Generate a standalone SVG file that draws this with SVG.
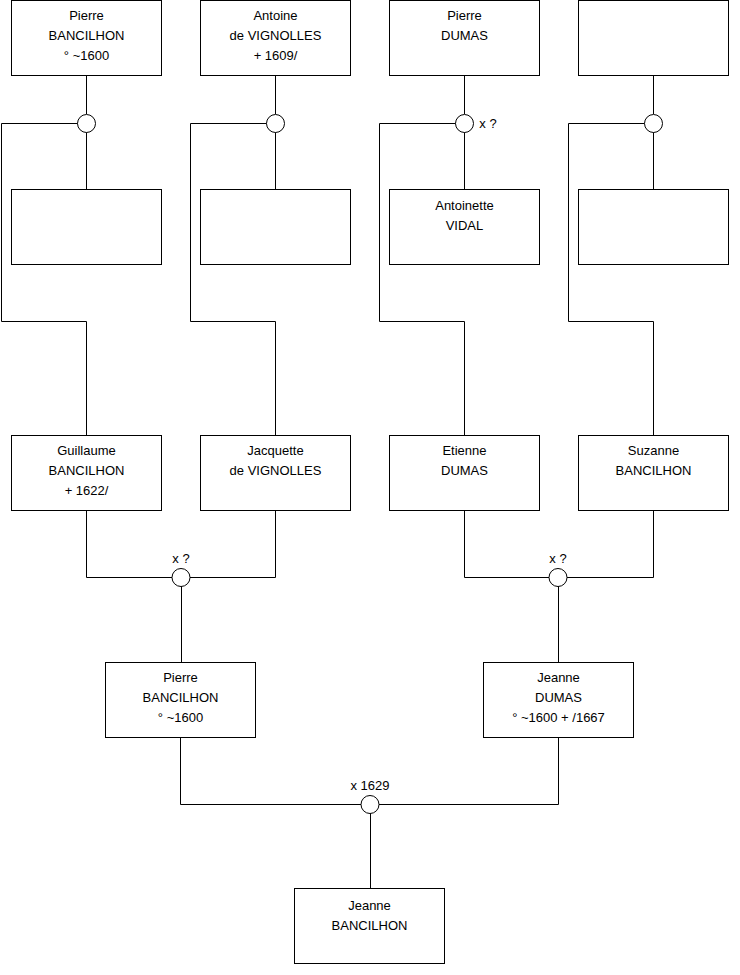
<svg xmlns="http://www.w3.org/2000/svg" width="740" height="975" viewBox="0 0 740 975">
<style>
.b{fill:#fff;stroke:#000;stroke-width:1}
.c{fill:#fff;stroke:#000;stroke-width:1}
.l{fill:none;stroke:#000;stroke-width:1}
text{font-family:"Liberation Sans",Arial,sans-serif;font-size:13px;fill:#000;text-anchor:middle}
</style>
<rect width="740" height="975" fill="#fff"/>
<g id="connectors">
<path class="l" d="M86.5 75.5V114M78 123.5H1.5V321.5H86.5V435M86.5 132V189"/>
<path class="l" d="M275.5 75.5V114M267 123.5H190.5V321.5H275.5V435M275.5 132V189"/>
<path class="l" d="M464.5 75.5V114M456 123.5H379.5V321.5H464.5V435M464.5 132V189"/>
<path class="l" d="M653.5 75.5V114M645 123.5H568.5V321.5H653.5V435M653.5 132V189"/>
<path class="l" d="M86.5 510.5V577.5H172M190 577.5H275.5V510.5M181.5 586V662"/>
<path class="l" d="M464.5 510.5V577.5H549M567 577.5H653.5V510.5M558.5 586V662"/>
<path class="l" d="M180.5 737.5V804.5H361M379 804.5H558.5V737.5M370.5 813V888"/>
</g>
<g id="u1"><circle class="c" cx="86.5" cy="123.5" r="9"/></g>
<g id="u2"><circle class="c" cx="275.5" cy="123.5" r="9"/></g>
<g id="u3"><circle class="c" cx="464.5" cy="123.5" r="9"/><text x="488" y="128">x ?</text></g>
<g id="u4"><circle class="c" cx="653.5" cy="123.5" r="9"/></g>
<g id="u5"><circle class="c" cx="181" cy="577.5" r="9"/><text x="181" y="562.5">x ?</text></g>
<g id="u6"><circle class="c" cx="558" cy="577.5" r="9"/><text x="558" y="562.5">x ?</text></g>
<g id="u7"><circle class="c" cx="370" cy="804.5" r="9"/><text x="370" y="789.5">x 1629</text></g>
<g id="n1"><rect class="b" x="11.5" y="0.5" width="150" height="75"/><text x="86.5" y="20">Pierre</text><text x="86.5" y="40">BANCILHON</text><text x="86.5" y="60">° ~1600</text></g>
<g id="n2"><rect class="b" x="200.5" y="0.5" width="150" height="75"/><text x="275.5" y="20">Antoine</text><text x="275.5" y="40">de VIGNOLLES</text><text x="275.5" y="60">+ 1609/</text></g>
<g id="n3"><rect class="b" x="389.5" y="0.5" width="150" height="75"/><text x="464.5" y="20">Pierre</text><text x="464.5" y="40">DUMAS</text></g>
<g id="n4"><rect class="b" x="578.5" y="0.5" width="150" height="75"/></g>
<g id="n5"><rect class="b" x="11.5" y="189.5" width="150" height="75"/></g>
<g id="n6"><rect class="b" x="200.5" y="189.5" width="150" height="75"/></g>
<g id="n7"><rect class="b" x="389.5" y="189.5" width="150" height="75"/><text x="464.5" y="210">Antoinette</text><text x="464.5" y="230">VIDAL</text></g>
<g id="n8"><rect class="b" x="578.5" y="189.5" width="150" height="75"/></g>
<g id="n9"><rect class="b" x="11.5" y="435.5" width="150" height="75"/><text x="86.5" y="455">Guillaume</text><text x="86.5" y="475">BANCILHON</text><text x="86.5" y="495">+ 1622/</text></g>
<g id="n10"><rect class="b" x="200.5" y="435.5" width="150" height="75"/><text x="275.5" y="455">Jacquette</text><text x="275.5" y="475">de VIGNOLLES</text></g>
<g id="n11"><rect class="b" x="389.5" y="435.5" width="150" height="75"/><text x="464.5" y="455">Etienne</text><text x="464.5" y="475">DUMAS</text></g>
<g id="n12"><rect class="b" x="578.5" y="435.5" width="150" height="75"/><text x="653.5" y="455">Suzanne</text><text x="653.5" y="475">BANCILHON</text></g>
<g id="n13"><rect class="b" x="105.5" y="662.5" width="150" height="75"/><text x="180.5" y="682">Pierre</text><text x="180.5" y="702">BANCILHON</text><text x="180.5" y="722">° ~1600</text></g>
<g id="n14"><rect class="b" x="483.5" y="662.5" width="150" height="75"/><text x="558.5" y="682">Jeanne</text><text x="558.5" y="702">DUMAS</text><text x="558.5" y="722">° ~1600 + /1667</text></g>
<g id="n15"><rect class="b" x="294.5" y="888.5" width="150" height="75"/><text x="369.5" y="910">Jeanne</text><text x="369.5" y="930">BANCILHON</text></g>
</svg>
